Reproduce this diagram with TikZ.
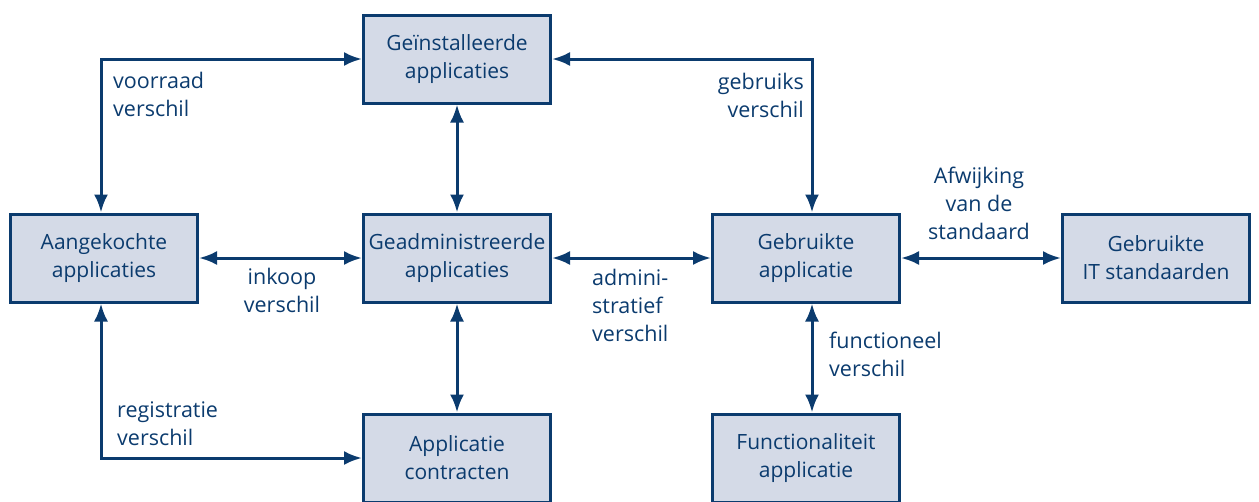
\documentclass[tikz,border=0pt]{standalone}
\usepackage{fontspec}
\setmainfont{Open Sans}
\usetikzlibrary{arrows.meta}
\definecolor{dblue}{HTML}{0B3B6E}
\definecolor{lblue}{HTML}{D4DAE7}
\begin{document}
\begin{tikzpicture}[x=1pt,y=-1pt,
 box/.style={draw=dblue,fill=lblue,line width=3pt,minimum width=187pt,minimum height=88pt,inner sep=0pt,align=center,text=dblue,font=\fontsize{21}{28}\selectfont},
 lbl/.style={inner sep=0pt,text=dblue,font=\fontsize{21.5}{28}\selectfont},
 conn/.style={draw=dblue,line width=3pt,{Latex[length=18pt,width=14pt]}-{Latex[length=18pt,width=14pt]}}]
\useasboundingbox (0,0) rectangle (1259,501);
\clip (0,0) rectangle (1259,501);
\node[box] (inst) at (457,59) {Geïnstalleerde\\applicaties};
\node[box] (aan) at (104,258) {Aangekochte\\applicaties};
\node[box] (adm) at (457,258) {Geadministreerde\\applicaties};
\node[box] (geb) at (806,258) {Gebruikte\\applicatie};
\node[box] (std) at (1156,258) {Gebruikte\\IT standaarden};
\node[box] (con) at (457,458) {Applicatie\\contracten};
\node[box] (fun) at (806,458) {Functionaliteit\\applicatie};
\draw[conn] (inst.west) -| ([xshift=-3pt]aan.north);
\draw[conn] (inst.east) -| ([xshift=6pt]geb.north);
\draw[conn] (inst.south) -- (adm.north);
\draw[conn] (aan.east) -- (adm.west);
\draw[conn] (adm.east) -- (geb.west);
\draw[conn] (geb.east) -- (std.west);
\draw[conn] (adm.south) -- (con.north);
\draw[conn] ([xshift=6pt]geb.south) -- ([xshift=6pt]fun.north);
\draw[conn] ([xshift=-3pt]aan.south) |- (con.west);
\node[lbl,anchor=north west,align=left] (l1) at (113,72) {voorraad\\verschil};
\node[lbl,anchor=north east,align=right] (l2) at (804,73) {gebruiks\\verschil};
\node[lbl,anchor=north west,align=left] (l3) at (117,402) {registratie\\verschil};
\node[lbl,anchor=north,align=center] (l4) at (282,268) {inkoop\\verschil};
\node[lbl,anchor=north west,align=left] (l5) at (592,269) {admini-\\stratief\\verschil};
\node[lbl,anchor=north,align=center] (l6) at (979,167) {Afwijking\\van de\\standaard};
\node[lbl,anchor=north west,align=left] (l7) at (829,332) {functioneel\\verschil};
\end{tikzpicture}
\end{document}
